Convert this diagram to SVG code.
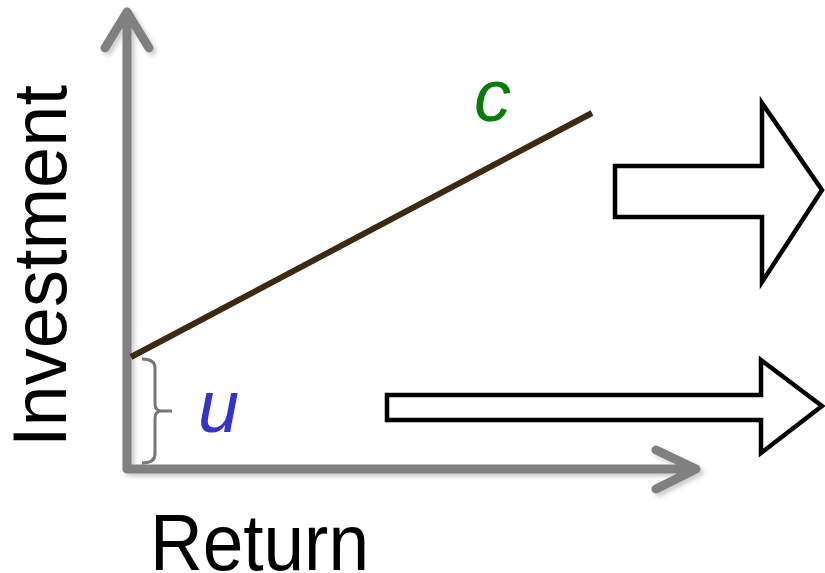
<svg xmlns="http://www.w3.org/2000/svg" width="825" height="573" viewBox="0 0 825 573">
<style>
.axis{stroke:#808080;stroke-width:9;fill:none;stroke-linecap:round;stroke-linejoin:round}
.block{fill:#fff;stroke:#000;stroke-width:4.5;stroke-linejoin:miter}
.lbl{font-family:"Liberation Sans",Arial,sans-serif;fill:#000}
.var{font-family:"Liberation Sans",Arial,sans-serif;font-size:74px;font-style:italic}
</style>
<defs>
<filter id="sh" x="-20%" y="-20%" width="140%" height="140%">
<feDropShadow dx="3" dy="3" stdDeviation="2" flood-color="#000" flood-opacity="0.2"/>
</filter>
</defs>
<g id="axes" filter="url(#sh)">
<path class="axis" d="M127,468 L127,12 M105,48 L127,12 L149,48"/>
<path class="axis" d="M127,469 L696,469 M656,450 L696,469 L656,489"/>
</g>
<g id="line-c">
<line x1="131" y1="357" x2="592" y2="113" stroke="#3d2a12" stroke-width="6"/>
<text class="var" x="474" y="121" fill="#0a7a0a">c</text>
</g>
<g id="brace-u">
<path d="M142,359 Q155,359 155,368 L155,404 Q155,411 162,411 L172,411 M162,411 Q155,411 155,418 L155,454 Q155,463 142,463" fill="none" stroke="#777" stroke-width="3"/>
<text class="var" x="198" y="432" fill="#3333cc">u</text>
</g>
<g id="labels">
<text class="lbl" x="150" y="570" font-size="80" textLength="219" lengthAdjust="spacingAndGlyphs">Return</text>
<text class="lbl" transform="translate(66,266) rotate(-90)" text-anchor="middle" font-size="76" textLength="362" lengthAdjust="spacingAndGlyphs">Investment</text>
</g>
<g id="arrows">
<polygon class="block" points="615,166 762,166 762,103 822,190 762,282 762,217 615,217"/>
<polygon class="block" points="387,395 761,395 761,360 822,406 761,453 761,420 387,420"/>
</g>
</svg>
